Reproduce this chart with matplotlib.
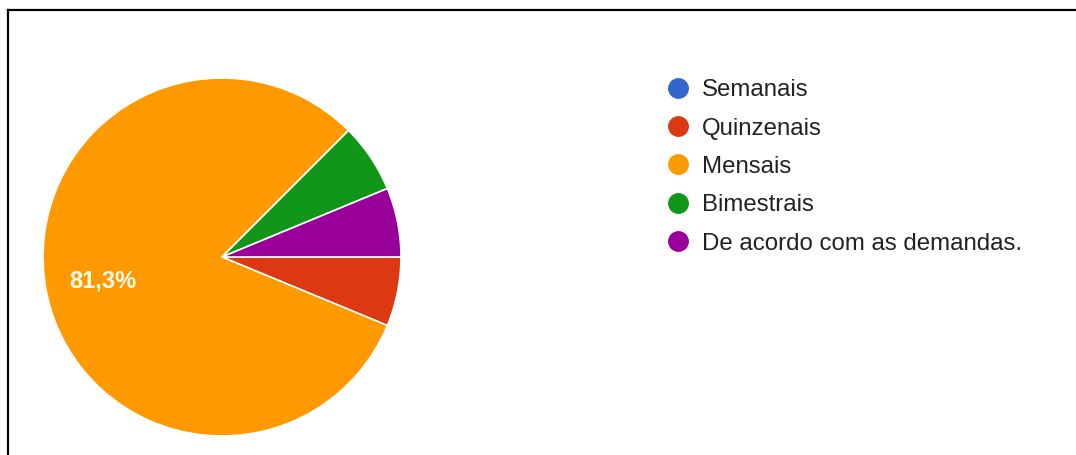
import matplotlib.pyplot as plt
from matplotlib.lines import Line2D

plt.rcParams['font.family'] = ['Liberation Sans', 'DejaVu Sans']

# Respostas por frequência
categorias = ["Semanais", "Quinzenais", "Mensais", "Bimestrais", "De acordo com as demandas."]
respostas = [0, 1, 13, 1, 1]
cores = ["#3366cc", "#dc3912", "#ff9900", "#109618", "#990099"]

total = sum(respostas)


def rotulo(pct):
    # só mostra o rótulo nas fatias maiores, com vírgula decimal
    if pct < 10:
        return ""
    valor = int(pct * 10 + 0.5 + 1e-9) / 10
    return f"{valor:.1f}%".replace(".", ",")


fig = plt.figure(figsize=(10.76, 4.55), dpi=100)
ax = fig.add_axes([0.03996, 0.04176, 0.3327, 0.7868])

wedges, textos, autotextos = ax.pie(
    respostas, colors=cores, startangle=0, counterclock=False,
    autopct=rotulo, pctdistance=0.68, radius=1,
    wedgeprops=dict(edgecolor="white", linewidth=1.2),
    textprops=dict(color="#fffdf0", fontsize=17, fontweight="bold"),
)
ax.set_xlim(-1, 1)
ax.set_ylim(-1, 1)
ax.set_aspect("equal")
ax.axis("off")

handles = [Line2D([], [], marker="o", linestyle="", markersize=14,
                  markerfacecolor=c, markeredgecolor=c) for c in cores]
fig.legend(handles, categorias, loc="upper left", bbox_to_anchor=(0.6194, 0.826),
           frameon=False, fontsize=17.3, handlelength=1.0, handletextpad=0.48,
           labelspacing=0.68, borderpad=0, borderaxespad=0, labelcolor="#222222")

# moldura superior e esquerda
fig.add_artist(Line2D([0.007, 1.0], [0.978, 0.978], color="black", linewidth=1.6))
fig.add_artist(Line2D([0.007, 0.007], [0.0, 0.978], color="black", linewidth=1.6))

fig.savefig("out.png", dpi=100)
